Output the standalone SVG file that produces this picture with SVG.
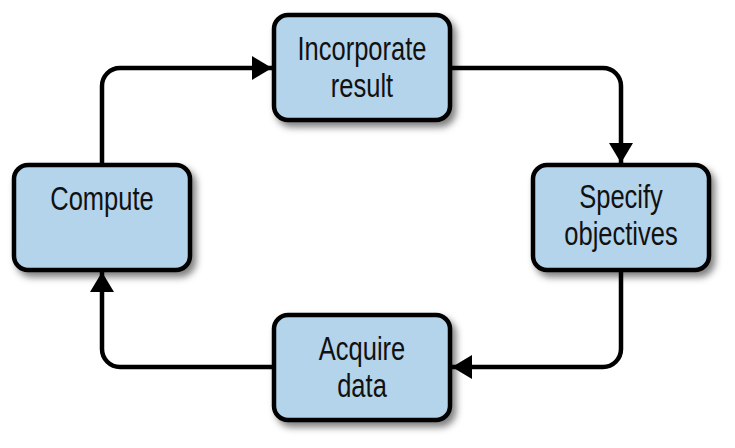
<svg xmlns="http://www.w3.org/2000/svg" width="735" height="448" viewBox="0 0 735 448">
<style>
.box{fill:#b3d4ea;stroke:#000;stroke-width:4.5;filter:url(#sh)}
.lbl{font-family:"Liberation Sans",Arial,sans-serif;font-size:34px;fill:#111;text-anchor:middle}
.con{fill:none;stroke:#000;stroke-width:4.5}
</style>
<defs>
<filter id="sh" x="-20%" y="-20%" width="150%" height="150%">
<feDropShadow dx="4" dy="5" stdDeviation="3.5" flood-color="#000" flood-opacity="0.5"/>
</filter>
<marker id="arr" viewBox="0 0 10 12" refX="10" refY="6" markerWidth="4.5" markerHeight="5.4" orient="auto" markerUnits="strokeWidth">
<path d="M0,0 L10,6 L0,12 Z" fill="#000"/>
</marker>
</defs>
<g id="connectors">
<path class="con" d="M102,163 V86 A18,18 0 0 1 120,68 H272" marker-end="url(#arr)"/>
<path class="con" d="M452,68 H603 A18,18 0 0 1 621,86 V163" marker-end="url(#arr)"/>
<path class="con" d="M621,272 V349 A18,18 0 0 1 603,367 H452" marker-end="url(#arr)"/>
<path class="con" d="M272,367 H120 A18,18 0 0 1 102,349 V272" marker-end="url(#arr)"/>
</g>
<g id="incorporate">
<rect class="box" x="274" y="15" width="176" height="105" rx="14"/>
<text class="lbl" transform="translate(362,60) scale(0.75,1)">Incorporate</text>
<text class="lbl" transform="translate(362,97) scale(0.75,1)">result</text>
</g>
<g id="compute">
<rect class="box" x="14" y="165" width="176" height="105" rx="14"/>
<text class="lbl" transform="translate(102,210) scale(0.75,1)">Compute</text>
</g>
<g id="specify">
<rect class="box" x="533" y="165" width="176" height="105" rx="14"/>
<text class="lbl" transform="translate(621,208) scale(0.75,1)">Specify</text>
<text class="lbl" transform="translate(621,245) scale(0.75,1)">objectives</text>
</g>
<g id="acquire">
<rect class="box" x="274" y="315" width="176" height="105" rx="14"/>
<text class="lbl" transform="translate(362,360) scale(0.75,1)">Acquire</text>
<text class="lbl" transform="translate(362,397) scale(0.75,1)">data</text>
</g>
</svg>
